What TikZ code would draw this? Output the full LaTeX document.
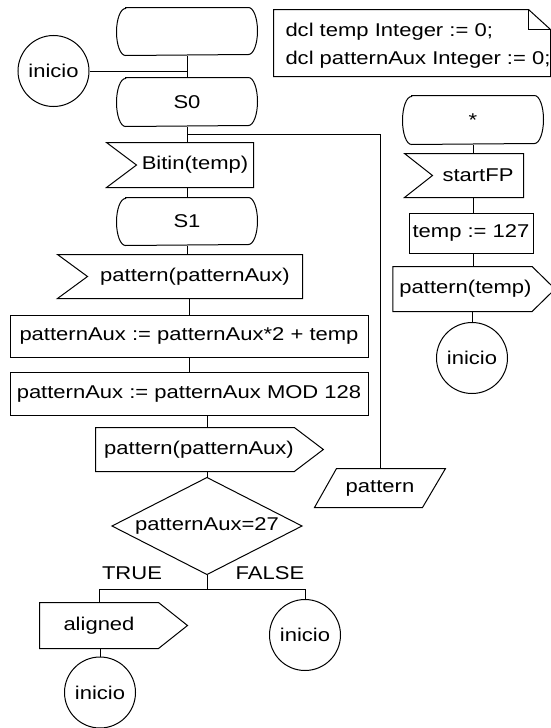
\documentclass[tikz,border=0pt]{standalone}
\usepackage{fontspec}
\setmainfont{Liberation Sans}[FakeStretch=1.19]
\newcommand\sdlstate[2]{\draw ([xshift=9pt]#1.north west) -- ([xshift=-9pt]#1.north east) arc[start angle=90,end angle=-90,x radius=9pt,y radius=#2pt] -- ([xshift=9pt]#1.south west) arc[start angle=270,end angle=90,x radius=9pt,y radius=#2pt] -- cycle;}
\newcommand\sdlin[2]{\draw (#1.north east) -- (#1.south east) -- ([xshift=-#2pt]#1.south west) -- (#1.west) -- ([xshift=-#2pt]#1.north west) -- cycle;}
\newcommand\sdlout[2]{\draw (#1.north west) -- (#1.north east) -- ([xshift=#2pt]#1.east) -- (#1.south east) -- (#1.south west) -- cycle;}
\begin{document}
\begin{tikzpicture}[x=1pt,y=1pt,line width=1pt,
  every node/.style={font=\fontsize{18.5}{28}\selectfont, inner sep=0pt},
  area/.style 2 args={rectangle, minimum width=#1, minimum height=#2},
  taskbox/.style 2 args={rectangle, draw, minimum width=#1, minimum height=#2},
  conn/.style={circle, draw, minimum size=71}]
\useasboundingbox (0,0) rectangle (551,-728);
% note
\node[area={276}{66}] (note) at (412,-43) {};
\draw (note.south west) -- (note.north west) -- ([xshift=-22pt]note.north east) -- ([yshift=-20pt]note.north east) -- (note.south east) -- cycle;
\draw ([xshift=-22pt]note.north east) -- ([xshift=-22pt,yshift=-20pt]note.north east) -- ([yshift=-20pt]note.north east);
\node[anchor=west, align=left] (notetext) at (285,-46) {dcl temp Integer := 0;\\dcl patternAux Integer := 0;};
% left column
\node[area={140}{47}] (st0) at (187,-31.5) {};
\sdlstate{st0}{23.5}
\node[conn] (ini1) at (53.5,-71) {inicio};
\node[area={140}{48}] (s0) at (187,-102) {S0};
\sdlstate{s0}{24}
\coordinate (j0) at (187,-134);
\node[area={116}{44}] (bitin) at (195,-165) {Bitin(temp)};
\sdlin{bitin}{30}
\node[area={140}{47}] (s1) at (187,-221.5) {S1};
\sdlstate{s1}{23.5}
\node[area={214}{43}] (pin) at (195,-276.5) {pattern(patternAux)};
\sdlin{pin}{30}
\node[taskbox={358}{42}] (a1) at (189,-336) {patternAux := patternAux*2 + temp};
\node[taskbox={358}{43}] (a2) at (189,-393.5) {patternAux := patternAux MOD 128};
\node[area={196}{43}] (pout) at (195,-449.5) {\hspace*{8pt}pattern(patternAux)};
\sdlout{pout}{29}
\node[area={189}{96}] (dec) at (207,-526) {patternAux=27};
\draw (dec.north) -- (dec.east) -- (dec.south) -- (dec.west) -- cycle;
\node (ltrue) at (132,-573) {TRUE};
\node (lfalse) at (270,-573) {FALSE};
\coordinate (jb) at (207,-589);
\node[area={118}{45}] (al) at (99,-625.5) {aligned};
\sdlout{al}{29}
\node[conn] (ini3) at (100,-692.5) {inicio};
\node[conn] (ini2) at (305,-635) {inicio};
\node[area={130}{38}] (par) at (380,-488) {pattern};
\draw (par.south west) -- ([xshift=-23pt]par.south east) -- (par.north east) -- ([xshift=22pt]par.north west) -- cycle;
% right column
\node[area={140}{48}] (star) at (473,-120) {*};
\sdlstate{star}{24}
\node[area={90}{43}] (sfp) at (478,-175.5) {startFP};
\sdlin{sfp}{28}
\node[taskbox={124}{40}] (t127) at (471,-233) {temp := 127};
\node[area={129}{44}] (ptemp) at (462.5,-289) {\hspace*{6pt}pattern(temp)};
\sdlout{ptemp}{23}
\node[conn] (ini4) at (472,-358) {inicio};
% connectors
\draw (st0.south) -- (s0.north);
\draw (ini1.east) -- (ini1.east -| st0.south);
\draw (s0.south) -- (bitin.north -| s0.south);
\draw (j0) -| (par.north);
\draw (bitin.south -| s1.north) -- (s1.north);
\draw (s1.south) -- (pin.north -| s1.south);
\draw (pin.south -| a1.north) -- (a1.north);
\draw (a1.south) -- (a2.north);
\draw (a2.south -| dec.north) -- (pout.north -| dec.north);
\draw (pout.south -| dec.north) -- (dec.north);
\draw (dec.south) -- (jb);
\draw (jb) -| (al.north);
\draw (jb) -| (ini2.north);
\draw (al.south -| ini3.north) -- (ini3.north);
\draw (star.south) -- (sfp.north -| star.south);
\draw (sfp.south -| star.south) -- (t127.north -| star.south);
\draw (t127.south -| star.south) -- (ptemp.north -| star.south);
\draw (ptemp.south -| ini4.north) -- (ini4.north);
\end{tikzpicture}
\end{document}
